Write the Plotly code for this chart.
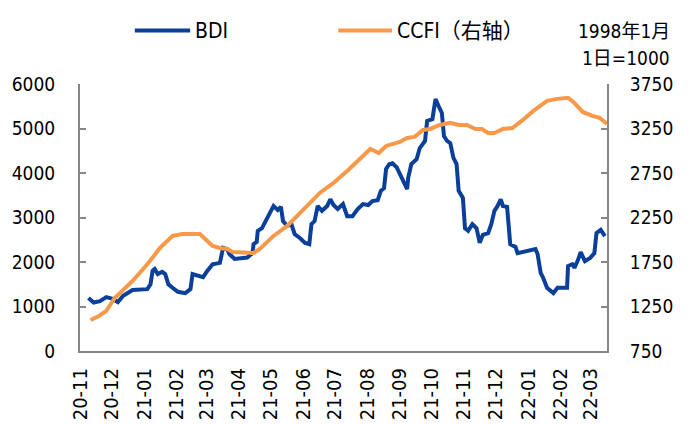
import plotly.graph_objects as go

# BDI (left axis)
bdi_dates = [
    "2020-11-09", "2020-11-14", "2020-11-20", "2020-11-26", "2020-12-02", "2020-12-07",
    "2020-12-12", "2020-12-16", "2020-12-21", "2021-01-04", "2021-01-07", "2021-01-09",
    "2021-01-11", "2021-01-14", "2021-01-18", "2021-01-21", "2021-01-24", "2021-01-28",
    "2021-02-02", "2021-02-09", "2021-02-14", "2021-02-16", "2021-02-20", "2021-02-26",
    "2021-03-02", "2021-03-07", "2021-03-14", "2021-03-17", "2021-03-21", "2021-03-23",
    "2021-03-28", "2021-04-02", "2021-04-09", "2021-04-14", "2021-04-15", "2021-04-18",
    "2021-04-19", "2021-04-23", "2021-04-28", "2021-05-03", "2021-05-04", "2021-05-08",
    "2021-05-11", "2021-05-13", "2021-05-17", "2021-05-21", "2021-05-24", "2021-05-29",
    "2021-06-03", "2021-06-07", "2021-06-09", "2021-06-12", "2021-06-15", "2021-06-19",
    "2021-06-24", "2021-06-27", "2021-06-30", "2021-07-04", "2021-07-09", "2021-07-13",
    "2021-07-18", "2021-07-23", "2021-07-28", "2021-08-02", "2021-08-06", "2021-08-11",
    "2021-08-14", "2021-08-17", "2021-08-19", "2021-08-22", "2021-08-25", "2021-08-29",
    "2021-09-01", "2021-09-04", "2021-09-08", "2021-09-09", "2021-09-12", "2021-09-17",
    "2021-09-20", "2021-09-25", "2021-09-27", "2021-10-02", "2021-10-05", "2021-10-08",
    "2021-10-11", "2021-10-13", "2021-10-16", "2021-10-19", "2021-10-22", "2021-10-25",
    "2021-10-27", "2021-10-31", "2021-11-02", "2021-11-05", "2021-11-09", "2021-11-13",
    "2021-11-16", "2021-11-19", "2021-11-24", "2021-11-27", "2021-11-30", "2021-12-03",
    "2021-12-06", "2021-12-08", "2021-12-12", "2021-12-15", "2021-12-20", "2021-12-22",
    "2021-12-31", "2022-01-08", "2022-01-10", "2022-01-13", "2022-01-15", "2022-01-19",
    "2022-01-25", "2022-01-29", "2022-02-07", "2022-02-08", "2022-02-12", "2022-02-14",
    "2022-02-17", "2022-02-20", "2022-02-24", "2022-03-01", "2022-03-05", "2022-03-07",
    "2022-03-11", "2022-03-13", "2022-03-15",
]
bdi_values = [
    1190, 1090, 1120, 1210, 1170, 1100,
    1240, 1300, 1370, 1390, 1500, 1800,
    1840, 1730, 1780, 1730, 1500, 1420,
    1330, 1300, 1390, 1730, 1710, 1660,
    1800, 1950, 1980, 2320, 2290, 2180,
    2070, 2090, 2100, 2200, 2400, 2450,
    2700, 2760, 2990, 3190, 3260, 3170,
    3240, 2920, 2810, 2850, 2630, 2540,
    2430, 2400, 2850, 2920, 3260, 3150,
    3260, 3410, 3280, 3190, 3300, 3030,
    3030, 3190, 3300, 3280, 3370, 3390,
    3600, 3660, 4090, 4200, 4220, 4130,
    3980, 3820, 3640, 3890, 4200, 4310,
    4560, 4720, 5170, 5210, 5660, 5500,
    5350, 4830, 4720, 4670, 4340, 4200,
    3600, 3440, 2760, 2700, 2850, 2760,
    2430, 2610, 2650, 2850, 3150, 3260,
    3410, 3260, 3240, 2400, 2340, 2200,
    2250, 2290, 2180, 1750, 1660, 1420,
    1300, 1420, 1420, 1910, 1950, 1870,
    2020, 2220, 2020, 2090, 2200, 2650,
    2720, 2630, 2580,
]

# CCFI (right axis)
ccfi_dates = [
    "2020-11-11", "2020-11-19", "2020-11-26", "2020-12-04", "2020-12-21", "2021-01-05",
    "2021-01-16", "2021-01-28", "2021-02-06", "2021-02-23", "2021-02-27", "2021-03-07",
    "2021-03-14", "2021-03-21", "2021-03-26", "2021-04-05", "2021-04-15", "2021-04-21",
    "2021-05-04", "2021-05-17", "2021-05-29", "2021-06-17", "2021-06-30", "2021-07-06",
    "2021-07-14", "2021-08-04", "2021-08-12", "2021-08-19", "2021-09-01", "2021-09-08",
    "2021-09-15", "2021-09-23", "2021-09-30", "2021-10-09", "2021-10-19", "2021-10-27",
    "2021-11-04", "2021-11-12", "2021-11-18", "2021-11-24", "2021-11-30", "2021-12-08",
    "2021-12-17", "2021-12-27", "2022-01-06", "2022-01-19", "2022-01-29", "2022-02-08",
    "2022-02-13", "2022-02-22", "2022-03-03", "2022-03-10", "2022-03-17",
]
ccfi_values = [
    1098, 1143, 1200, 1346, 1537, 1739,
    1908, 2043, 2065, 2065, 2020, 1930,
    1908, 1896, 1863, 1863, 1852, 1896,
    2043, 2155, 2301, 2526, 2638, 2698,
    2784, 3020, 2975, 3054, 3099, 3144,
    3155, 3234, 3245, 3290, 3313, 3290,
    3290, 3245, 3245, 3200, 3200, 3245,
    3256, 3346, 3448, 3560, 3583, 3594,
    3549, 3436, 3391, 3369, 3301,
]

FONT = "DejaVu Sans Condensed, Noto Sans CJK SC, sans-serif"
AXIS = "#868686"
BLUE = "#0A3F9A"
ORANGE = "#F8994A"

fig = go.Figure()
fig.add_trace(go.Scatter(x=bdi_dates, y=bdi_values, name="BDI", mode="lines",
                         line=dict(color=BLUE, width=4)))
fig.add_trace(go.Scatter(x=ccfi_dates, y=ccfi_values, name="CCFI（右轴）", mode="lines",
                         line=dict(color=ORANGE, width=4), yaxis="y2"))

# legend drawn by hand so the swatches are as long as in the original
legend_y = 1.2
shapes = [
    dict(type="line", xref="paper", yref="paper", x0=0.104, x1=0.209, y0=legend_y, y1=legend_y,
         line=dict(color=BLUE, width=4)),
    dict(type="line", xref="paper", yref="paper", x0=0.490, x1=0.592, y0=legend_y, y1=legend_y,
         line=dict(color=ORANGE, width=4)),
]
annotations = [
    dict(text="BDI", x=0.214, y=legend_y, xanchor="left", font=dict(size=21)),
    dict(text="CCFI（右轴）", x=0.598, y=legend_y, xanchor="left", font=dict(size=21)),
    dict(text="1998年1月", x=1.124, y=1.2, xanchor="right"),
    dict(text="1日=1000", x=1.124, y=1.098, xanchor="right"),
]
for a in annotations:
    a.update(xref="paper", yref="paper", yanchor="middle", showarrow=False)

fig.update_layout(
    width=689, height=425,
    margin=dict(l=80, r=82, t=84, b=74),
    paper_bgcolor="white", plot_bgcolor="white",
    font=dict(family=FONT, size=19, color="black"),
    showlegend=False,
    shapes=shapes,
    annotations=annotations,
    xaxis=dict(type="date", range=["2020-11-01", "2022-03-17"],
               tick0="2020-11-01", dtick="M1", tickformat="%y-%m", tickangle=-90,
               tickfont=dict(size=20), showgrid=False, showline=True,
               linecolor=AXIS, linewidth=2, ticks="", ticklabelstandoff=7,
               zeroline=False, automargin=False),
    yaxis=dict(range=[0, 6000], dtick=1000, showgrid=False, showline=True,
               linecolor=AXIS, linewidth=2, ticks="inside", ticklen=6,
               tickcolor=AXIS, tickwidth=2, ticklabelstandoff=19,
               zeroline=False, automargin=False),
    yaxis2=dict(range=[750, 3750], tick0=750, dtick=500, overlaying="y", side="right",
                showgrid=False, showline=True, linecolor=AXIS, linewidth=2,
                ticks="inside", ticklen=6, tickcolor=AXIS, tickwidth=2,
                ticklabelstandoff=17, zeroline=False, automargin=False),
)

fig.write_html("out.html", config={"displayModeBar": False},
               post_script="document.body.style.margin='0';")
